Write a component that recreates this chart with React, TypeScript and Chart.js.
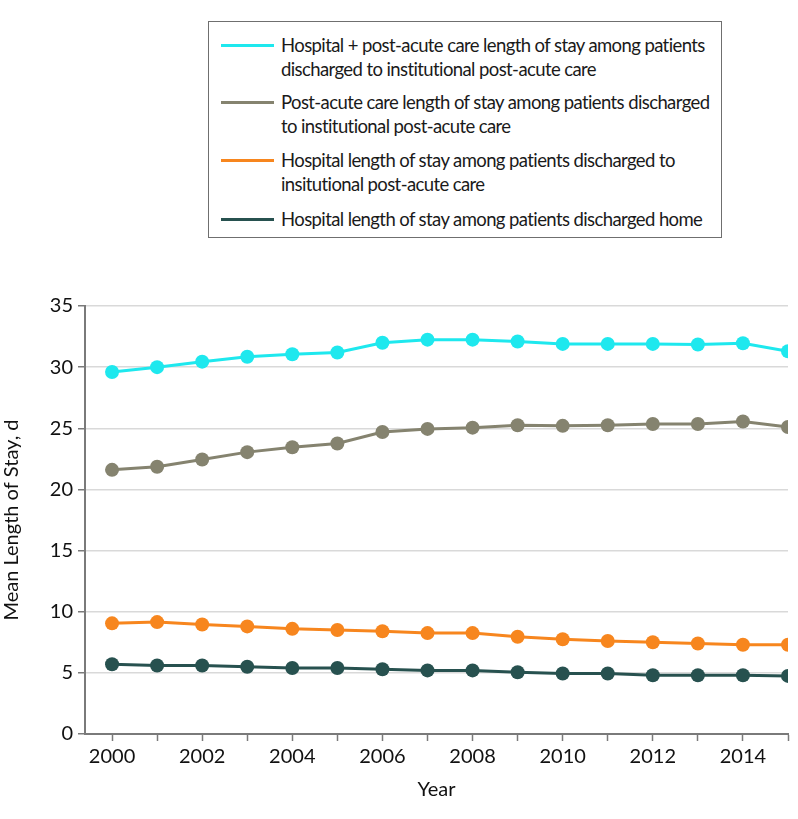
import React, { useEffect, useRef } from "react";
import { Chart, registerables } from "chart.js";

Chart.register(...registerables);

const years = [2000, 2001, 2002, 2003, 2004, 2005, 2006, 2007, 2008, 2009, 2010, 2011, 2012, 2013, 2014, 2015];
const hospitalPlusPostAcute = [29.6, 30.0, 30.45, 30.85, 31.05, 31.2, 32.0, 32.25, 32.25, 32.1, 31.9, 31.9, 31.9, 31.85, 31.95, 31.3];
const postAcuteStay = [21.6, 21.85, 22.45, 23.05, 23.45, 23.75, 24.7, 24.95, 25.05, 25.25, 25.2, 25.25, 25.35, 25.35, 25.55, 25.1];
const hospitalStayPostAcute = [9.05, 9.15, 8.95, 8.8, 8.6, 8.5, 8.4, 8.25, 8.25, 7.95, 7.75, 7.6, 7.5, 7.4, 7.3, 7.3];
const hospitalStayHome = [5.7, 5.6, 5.6, 5.5, 5.4, 5.4, 5.3, 5.2, 5.2, 5.05, 4.95, 4.95, 4.8, 4.8, 4.8, 4.75];

const seriesLabels = [
  ["Hospital + post-acute care length of stay among patients", "discharged to institutional post-acute care"],
  ["Post-acute care length of stay among patients discharged", "to institutional post-acute care"],
  ["Hospital length of stay among patients discharged to", "insitutional post-acute care"],
  ["Hospital length of stay among patients discharged home"],
];
const seriesColors = ["#1ee8ee", "#85836f", "#f7861e", "#27514f"];
const seriesData = [hospitalPlusPostAcute, postAcuteStay, hospitalStayPostAcute, hospitalStayHome];

const yTicks = [0, 5, 10, 15, 20, 25, 30, 35];
const FONT = "Lato, 'Liberation Sans', sans-serif";
const AXIS_COLOR = "#7a7a7a";

export default function App() {
  const canvasRef = useRef<HTMLCanvasElement | null>(null);

  useEffect(() => {
    const canvas = canvasRef.current;
    if (!canvas) return;
    const chart = new Chart(canvas, {
      type: "line",
      data: {
        datasets: seriesData.map((vals, i) => ({
          label: seriesLabels[i].join(" "),
          data: vals.map((v, j) => ({ x: years[j], y: v })),
          borderColor: seriesColors[i],
          backgroundColor: seriesColors[i],
          pointBackgroundColor: seriesColors[i],
          pointBorderWidth: 0,
          pointRadius: 7,
          pointHoverRadius: 7,
          borderWidth: 3,
          tension: 0,
          fill: false,
        })),
      },
      options: {
        responsive: false,
        animation: false,
        events: [],
        layout: { padding: { top: 306, right: 10, bottom: 0, left: 0 } },
        plugins: {
          legend: { display: false },
          tooltip: { enabled: false },
        },
        scales: {
          x: {
            type: "linear",
            min: 1999.4,
            max: 2015,
            afterBuildTicks: (scale: any) => {
              scale.ticks = years.map((v) => ({ value: v }));
            },
            afterFit: (scale: any) => {
              scale.height = 85;
            },
            ticks: {
              autoSkip: false,
              maxRotation: 0,
              padding: 4,
              color: "#111",
              font: { family: FONT, size: 20 },
              callback: (v: any) => (Number(v) % 2 === 0 ? String(v) : ""),
            },
            grid: {
              drawOnChartArea: false,
              drawTicks: true,
              tickLength: 7,
              tickColor: AXIS_COLOR,
              tickWidth: 1.5,
            },
            border: { display: true, color: AXIS_COLOR, width: 2 },
            title: {
              display: true,
              text: "Year",
              color: "#111",
              font: { family: FONT, size: 20 },
              padding: { top: 0, bottom: 17 },
            },
          },
          y: {
            type: "linear",
            min: 0,
            max: 35,
            afterBuildTicks: (scale: any) => {
              scale.ticks = yTicks.map((v) => ({ value: v }));
            },
            afterFit: (scale: any) => {
              scale.width = 85;
            },
            ticks: {
              padding: 5,
              color: "#111",
              font: { family: FONT, size: 20 },
            },
            grid: {
              color: "#d9d9d9",
              lineWidth: 1.5,
              drawTicks: true,
              tickLength: 7,
              tickColor: AXIS_COLOR,
              tickWidth: 1.5,
            },
            border: { display: true, color: AXIS_COLOR, width: 2 },
            title: {
              display: true,
              text: "Mean Length of Stay, d",
              color: "#111",
              font: { family: FONT, size: 20 },
              padding: { top: 0, bottom: 0 },
            },
          },
        },
      },
    });
    return () => chart.destroy();
  }, []);

  const entryCenters = [44, 101, 159, 218];

  return (
    <div style={{ position: "fixed", left: 0, top: 0, width: 798, height: 819, background: "#fff", overflow: "hidden" }}>
      <canvas ref={canvasRef} width={798} height={819} style={{ position: "absolute", left: 0, top: 0 }} />
      <div
        style={{
          position: "absolute",
          left: 208,
          top: 21,
          width: 514,
          height: 217,
          boxSizing: "border-box",
          border: "1.5px solid #6f6f6f",
          background: "#fff",
          fontFamily: FONT,
          fontSize: 18.5,
          letterSpacing: "-0.6px",
          color: "#1a1a1a",
        }}
      >
        {seriesLabels.map((lines, i) => (
          <div key={i} style={{ position: "absolute", left: 0, top: entryCenters[i] - 21 - 12, width: "100%" }}>
            <div
              style={{
                position: "absolute",
                left: 12,
                top: 11,
                width: 53,
                height: 3,
                background: seriesColors[i],
              }}
            />
            <div style={{ position: "absolute", left: 72, top: 0, lineHeight: "24px", whiteSpace: "nowrap" }}>
              {lines.map((t, k) => (
                <div key={k}>{t}</div>
              ))}
            </div>
          </div>
        ))}
      </div>
    </div>
  );
}
